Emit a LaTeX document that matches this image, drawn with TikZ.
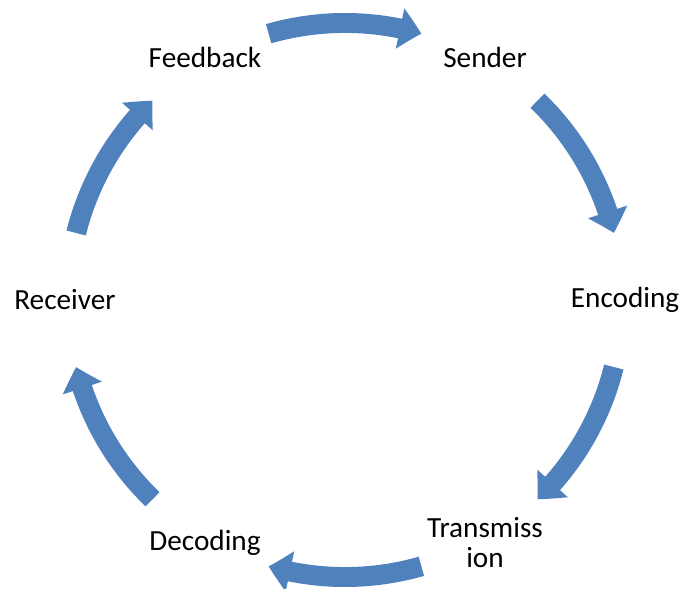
\documentclass[tikz,border=0pt]{standalone}
\usepackage{fontspec}
\setmainfont{Carlito}
\usetikzlibrary{arrows.meta,bending}
\definecolor{cycblue}{HTML}{4F81BD}

\begin{document}
\begin{tikzpicture}[cyc/.style = {draw=cycblue, line width=15pt, -{Triangle[length=16.5pt, width=30pt, bend]}},
    stage/.style = {font=\fontsize{22}{22.5}\selectfont, align=center}]
        \useasboundingbox (-9.128,-7.646) rectangle (8.943,7.9375);
        \node[stage] (sender) at (60:7.41) {Sender};
        \node[stage] (encoding) at (0:7.41) {Encoding};
        \node[stage] (transmission) at (-60:7.41) {Transmiss\\ion};
        \node[stage] (decoding) at (-120:7.41) {Decoding};
        \node[stage] (receiver) at (180:7.41) {Receiver};
        \node[stage] (feedback) at (120:7.41) {Feedback};

        % arrows around the cycle
        \draw[cyc] (106:7.33) arc[start angle=106, end angle=74, radius=7.33];
        \draw[cyc] (46:7.33) arc[start angle=46, end angle=14, radius=7.33];
        \draw[cyc] (-14:7.33) arc[start angle=-14, end angle=-46, radius=7.33];
        \draw[cyc] (-74:7.33) arc[start angle=-74, end angle=-106, radius=7.33];
        \draw[cyc] (-134:7.33) arc[start angle=-134, end angle=-166, radius=7.33];
        \draw[cyc] (166:7.33) arc[start angle=166, end angle=134, radius=7.33];
      \end{tikzpicture}
\end{document}
